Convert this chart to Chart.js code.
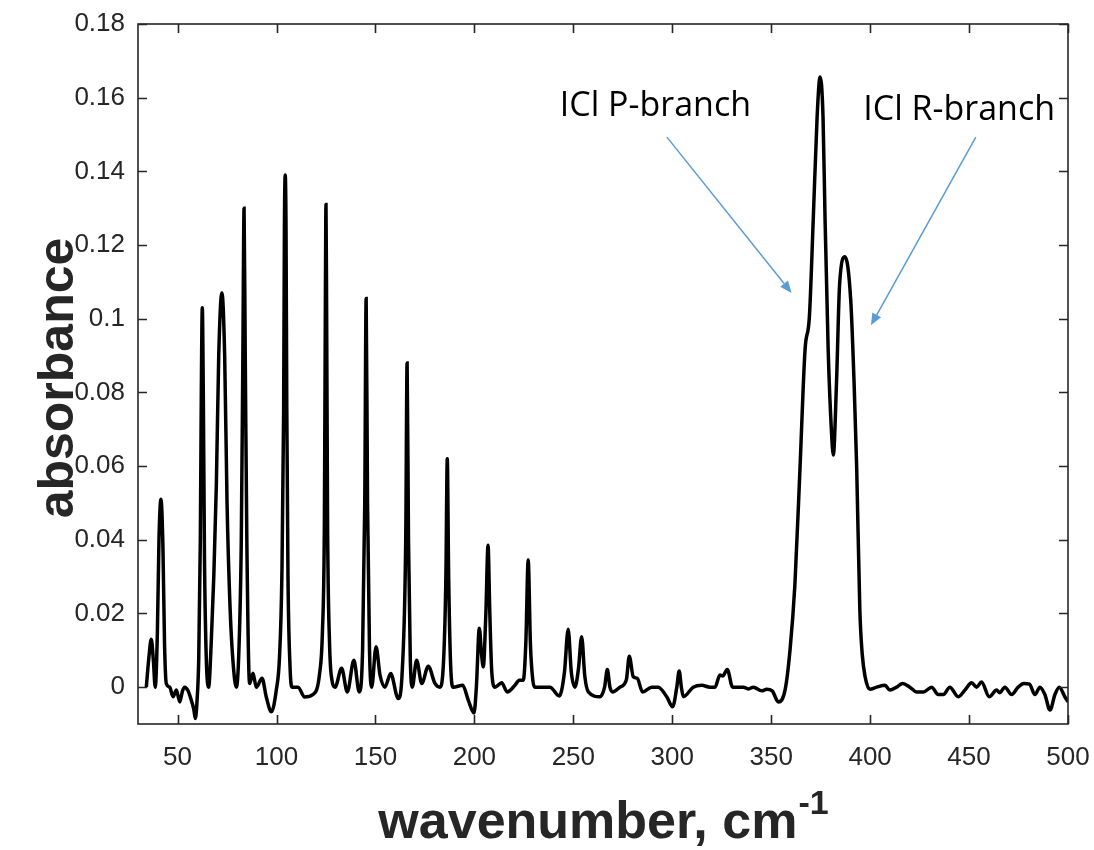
<!DOCTYPE html>
<html lang="en">
<head>
<meta charset="UTF-8">
<title>ICl far-IR absorbance</title>
<script src="https://cdn.jsdelivr.net/npm/chart.js"></script>
<style>
    html, body { margin: 0; padding: 0; background: #fff; }
    #spectrum { display: block; }
</style>
</head>
<body>
<canvas id="spectrum" width="1094" height="850"></canvas>
<script>
// spectrum samples: wavenumber (cm-1) and absorbance
const wavenumber = [
    34.2, 35.5, 36.7, 37.8, 38.7, 39.8, 40.6, 41.6, 42.6, 43.4, 44.3, 46.0, 47.7, 49.4, 51.1, 52.5,
    53.6, 55.3, 56.9, 58.2, 59.0, 59.8, 60.7, 61.5, 62.0, 62.5, 63.0, 63.6, 64.5, 65.7, 67.0, 68.3,
    69.6, 70.8, 72.4, 73.8, 75.0, 76.5, 78.0, 79.7, 81.0, 82.2, 83.0, 83.6, 84.2, 85.0, 86.4, 88.1,
    89.8, 92.7, 94.8, 97.4, 99.9, 101.5, 102.7, 103.6, 104.0, 104.4, 104.8, 105.2, 105.8, 106.8, 107.8, 110.9,
    114.2, 118.4, 121.8, 123.2, 124.2, 124.7, 125.0, 125.3, 125.8, 126.8, 128.0, 129.6, 132.9, 135.8, 139.1, 141.8,
    143.5, 144.6, 145.3, 146.0, 147.0, 148.1, 150.3, 152.3, 154.8, 157.7, 161.5, 163.6, 165.3, 166.0,
    166.7, 167.6, 168.6, 170.8, 173.4, 176.7, 180.0, 182.6, 184.5, 185.6, 186.3, 187.0, 188.0, 189.3,
    194.1, 196.9, 199.8, 201.0, 202.5, 203.6, 204.5, 205.8, 206.9, 207.8, 208.8, 210.4, 213.8, 216.6,
    220.5, 222.7, 224.7, 226.0, 227.2, 228.3, 229.5, 230.6, 234.8, 238.2, 242.9, 245.5, 247.4, 249.0,
    250.8, 252.6, 254.2, 255.8, 257.6, 263.5, 265.8, 267.2, 268.5, 269.9, 273.6, 276.8, 278.3, 280.3,
    282.3, 285.0, 289.6, 292.9, 297.2, 300.2, 302.3, 303.5, 304.6, 305.6, 310.6, 314.9, 319.0, 321.6,
    324.1, 325.5, 327.8, 330.5, 335.9, 338.5, 341.0, 345.2, 347.7, 350.5, 353.6, 357.0, 359.5, 362.0,
    364.6, 367.1, 369.3, 371.3, 373.2, 374.7, 376.2, 377.2, 378.8, 380.5, 381.4, 383.0, 384.6, 387.3,
    390.2, 391.9, 393.2, 394.8, 396.0, 397.4, 399.9, 403.3, 407.5, 410.0, 413.4, 416.4, 420.1, 423.5, 427.0,
    431.1, 434.4, 437.0, 440.3, 444.5, 447.9, 451.3, 453.8, 456.3, 460.2, 463.9, 465.5, 468.1, 471.5,
    474.8, 477.7, 480.5, 483.3, 485.8, 488.3, 490.9, 493.4, 495.6, 498.4, 500.0
];
const absorbance = [
    0.000, 0.008, 0.013, 0.007, 0.000, 0.015, 0.040, 0.051, 0.038, 0.012, 0.001, 0.000, -0.0026, -0.0008, -0.004, -0.001,
    0.000, -0.001, -0.0035, -0.006, -0.0085, -0.004, 0.008, 0.040, 0.080, 0.103, 0.080, 0.035, 0.008, 0.000, 0.012, 0.030,
    0.055, 0.090, 0.107, 0.090, 0.050, 0.022, 0.007, 0.000, 0.010, 0.040, 0.090, 0.130, 0.090, 0.040, 0.001, 0.0038,
    0.000, 0.0024, -0.0026, -0.0067, -0.0008, 0.008, 0.030, 0.075, 0.125, 0.139, 0.125, 0.075, 0.030, 0.006, 0.000, 0.000,
    -0.0027, -0.002, 0.0038, 0.015, 0.045, 0.105, 0.131, 0.105, 0.045, 0.012, 0.002, 0.000, 0.0051, -0.0013, 0.0073, -0.0013,
    0.010, 0.050, 0.1055, 0.050, 0.010, 0.000, 0.011, 0.0033, 0.000, 0.0037, -0.0031, 0.005, 0.040, 0.088,
    0.040, 0.008, 0.000, 0.0073, 0.001, 0.0057, 0.0011, 0.000, 0.008, 0.030, 0.062, 0.030, 0.006, 0.000,
    0.0005, -0.0035, -0.007, 0.000, 0.016, 0.009, 0.0055, 0.020, 0.0385, 0.020, 0.004, 0.000, 0.0012, -0.0013,
    0.0005, 0.0019, 0.0019, 0.012, 0.0345, 0.012, 0.002, 0.000, 0.000, 0.000, -0.0024, 0.004, 0.0157, 0.004,
    0.000, 0.005, 0.0137, 0.003, -0.0013, -0.0026, 0.000, 0.0048, 0.000, -0.0013, 0.000, 0.002, 0.0084, 0.0028,
    0.0024, -0.0013, 0.000, 0.000, -0.0026, -0.0053, 0.000, 0.0044, 0.000, -0.0026, 0.000, 0.0005, 0.000, 0.000,
    0.0033, 0.003, 0.0048, 0.000, 0.000, -0.0005, 0.000, -0.001, -0.0006, -0.001, -0.004, -0.0008, 0.010, 0.028,
    0.060, 0.0915, 0.1005, 0.1276, 0.1547, 0.1656, 0.1547, 0.1276, 0.0915, 0.069, 0.063, 0.0825, 0.1096, 0.1168,
    0.105, 0.0825, 0.0598, 0.021, 0.009, 0.003, -0.0006, 0.000, 0.0005, -0.0008, 0.000, 0.001, 0.000, -0.0013, -0.0013,
    0.000, -0.002, -0.002, 0.000, -0.0026, -0.0008, 0.0012, 0.000, 0.0014, -0.0026, -0.0008, -0.0015, 0.000, -0.002,
    0.000, 0.001, 0.0008, -0.002, 0.000, -0.002, -0.0062, -0.002, 0.000, -0.0026, -0.004
];

// axis ticks
const xTicks = [50, 100, 150, 200, 250, 300, 350, 400, 450, 500];
const yTicks = [0, 0.02, 0.04, 0.06, 0.08, 0.1, 0.12, 0.14, 0.16, 0.18];

// branch callouts, in data units
const callouts = [
    { text: 'ICl P-branch', labelX: 291.5, labelY: 0.155, fromX: 297.3, fromY: 0.1493, toX: 360.3, toY: 0.107 },
    { text: 'ICl R-branch', labelX: 445.0, labelY: 0.154, fromX: 453.4, fromY: 0.1493, toX: 400.4, toY: 0.0982 }
];

const INK = '#262626';
const ARROW = '#5b9bd5';
const AXIS_FONT = '"Liberation Sans", Arial, sans-serif';

// box, inward ticks, axis titles and arrows
const framePlugin = {
    id: 'frame',
    afterDraw(chart) {
        const { ctx, chartArea: a, scales: { x, y } } = chart;
        const tl = 9;
        ctx.save();
        ctx.strokeStyle = INK;
        ctx.lineWidth = 1.6;
        ctx.strokeRect(a.left, a.top, a.right - a.left, a.bottom - a.top);
        ctx.beginPath();
        xTicks.forEach(v => {
            const px = Math.round(x.getPixelForValue(v)) + 0.5;
            ctx.moveTo(px, a.bottom); ctx.lineTo(px, a.bottom - tl);
            ctx.moveTo(px, a.top); ctx.lineTo(px, a.top + tl);
        });
        yTicks.forEach(v => {
            const py = Math.round(y.getPixelForValue(v)) + 0.5;
            ctx.moveTo(a.left, py); ctx.lineTo(a.left + tl, py);
            ctx.moveTo(a.right, py); ctx.lineTo(a.right - tl, py);
        });
        ctx.stroke();

        // y title
        ctx.fillStyle = INK;
        ctx.font = 'bold 50px ' + AXIS_FONT;
        ctx.textAlign = 'center';
        ctx.textBaseline = 'alphabetic';
        ctx.save();
        ctx.translate(73, (a.top + a.bottom) / 2 + 4);
        ctx.rotate(-Math.PI / 2);
        ctx.fillText('absorbance', 0, 0);
        ctx.restore();

        // x title with superscript
        const main = 'wavenumber, cm';
        const sup = '-1';
        ctx.font = 'bold 52px ' + AXIS_FONT;
        const wMain = ctx.measureText(main).width;
        ctx.font = 'bold 34px ' + AXIS_FONT;
        const wSup = ctx.measureText(sup).width;
        const startX = (a.left + a.right) / 2 - (wMain + wSup) / 2;
        ctx.textAlign = 'left';
        ctx.font = 'bold 52px ' + AXIS_FONT;
        ctx.fillText(main, startX, 838);
        ctx.font = 'bold 34px ' + AXIS_FONT;
        ctx.fillText(sup, startX + wMain + 1, 814);

        // callouts
        callouts.forEach(c => {
            const x0 = x.getPixelForValue(c.fromX), y0 = y.getPixelForValue(c.fromY);
            const x1 = x.getPixelForValue(c.toX), y1 = y.getPixelForValue(c.toY);
            const ang = Math.atan2(y1 - y0, x1 - x0);
            const head = 12, half = 5;
            const bx = x1 - head * Math.cos(ang), by = y1 - head * Math.sin(ang);
            ctx.strokeStyle = ARROW;
            ctx.fillStyle = ARROW;
            ctx.lineWidth = 1.5;
            ctx.beginPath();
            ctx.moveTo(x0, y0);
            ctx.lineTo(bx, by);
            ctx.stroke();
            ctx.beginPath();
            ctx.moveTo(x1, y1);
            ctx.lineTo(bx + half * Math.sin(ang), by - half * Math.cos(ang));
            ctx.lineTo(bx - half * Math.sin(ang), by + half * Math.cos(ang));
            ctx.closePath();
            ctx.fill();

            ctx.fillStyle = '#000';
            ctx.font = '34px "Open Sans", "Noto Sans", sans-serif';
            ctx.textAlign = 'center';
            ctx.textBaseline = 'alphabetic';
            ctx.fillText(c.text, x.getPixelForValue(c.labelX), y.getPixelForValue(c.labelY));
        });
        ctx.restore();
    }
};

new Chart(document.getElementById('spectrum'), {
    type: 'line',
    data: {
        datasets: [{
            data: wavenumber.map((w, i) => ({ x: w, y: absorbance[i] })),
            borderColor: '#000',
            borderWidth: 3.5,
            pointRadius: 0,
            fill: false,
            cubicInterpolationMode: 'monotone'
        }]
    },
    options: {
        responsive: false,
        animation: false,
        devicePixelRatio: 1,
        layout: { padding: { top: 24, right: 26, left: 0, bottom: 0 } },
        plugins: { legend: { display: false }, tooltip: { enabled: false } },
        scales: {
            x: {
                type: 'linear',
                min: 30,
                max: 500,
                grid: { display: false, drawTicks: false },
                border: { display: false },
                afterBuildTicks: s => { s.ticks = xTicks.map(v => ({ value: v })); },
                afterFit: s => { s.height = 126; s.paddingLeft = 0; s.paddingRight = 0; },
                ticks: {
                    padding: 18,
                    color: INK,
                    font: { family: AXIS_FONT, size: 26 },
                    maxRotation: 0,
                    callback: v => String(v)
                }
            },
            y: {
                min: -0.01,
                max: 0.18,
                grid: { display: false, drawTicks: false },
                border: { display: false },
                afterBuildTicks: s => { s.ticks = yTicks.map(v => ({ value: v })); },
                afterFit: s => { s.width = 138; s.paddingTop = 0; s.paddingBottom = 0; },
                ticks: {
                    padding: 13,
                    color: INK,
                    font: { family: AXIS_FONT, size: 26 },
                    callback: v => String(Number(v.toFixed(2)))
                }
            }
        }
    },
    plugins: [framePlugin]
});
</script>
</body>
</html>
